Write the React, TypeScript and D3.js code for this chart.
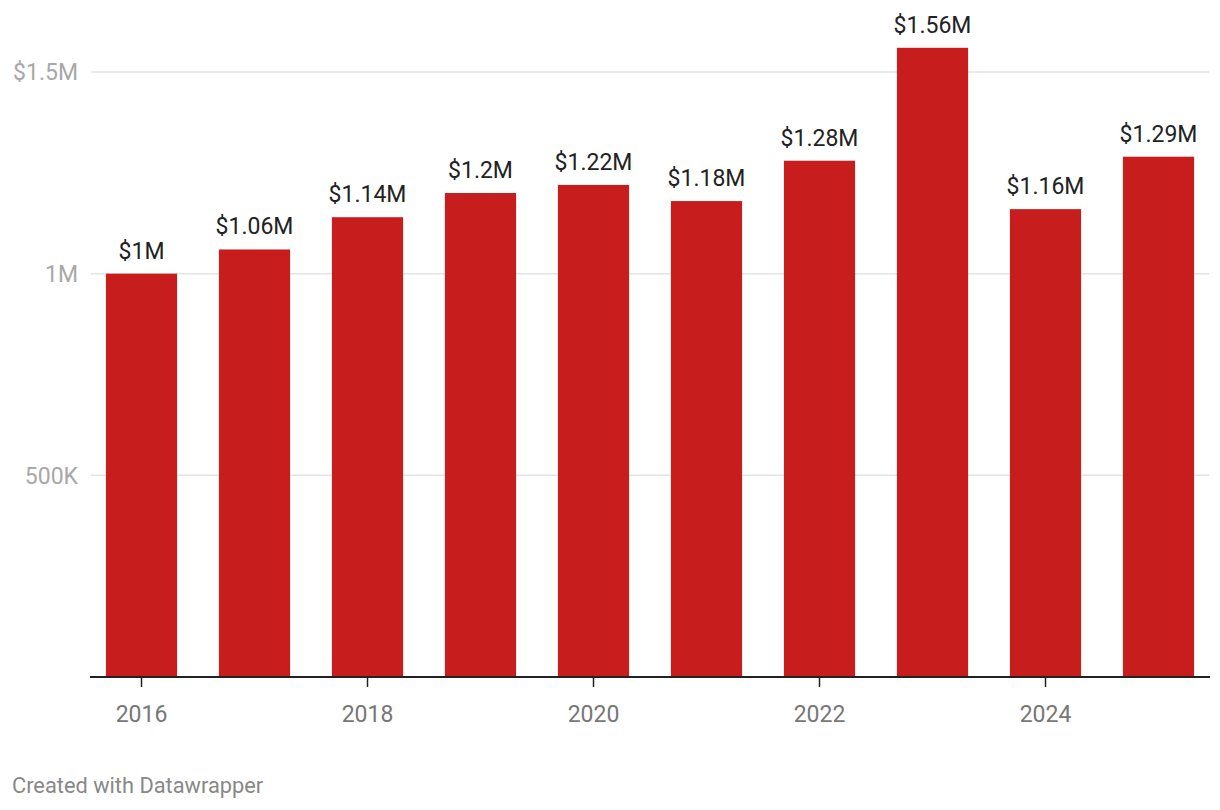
import React from "react";
import * as d3 from "d3";

const years = ["2016", "2017", "2018", "2019", "2020", "2021", "2022", "2023", "2024", "2025"];
const values = [1000000, 1060000, 1140000, 1200000, 1220000, 1180000, 1280000, 1560000, 1160000, 1290000];
const valueLabels = ["$1M", "$1.06M", "$1.14M", "$1.2M", "$1.22M", "$1.18M", "$1.28M", "$1.56M", "$1.16M", "$1.29M"];
const yTicks = [500000, 1000000, 1500000];
const yTickLabels = ["500K", "1M", "$1.5M"];
const xTickYears = ["2016", "2018", "2020", "2022", "2024"];

const W = 1220;
const H = 810;
const FONT = "Roboto, 'Noto Sans', sans-serif";

export default function App() {
  const x = d3.scaleBand<string>().domain(years).range([85, 1215]).paddingInner(0.37).paddingOuter(0.185);
  const y = d3.scaleLinear().domain([0, 1500000]).range([677, 72]);
  const bw = x.bandwidth();
  return (
    <svg width={W} height={H} style={{ position: "absolute", left: 0, top: 0, background: "#fff" }} fontFamily={FONT}>
      <rect x={0} y={0} width={W} height={H} fill="#fff" />
      {yTicks.map((t, i) => (
        <g key={t}>
          <line x1={91} x2={1209} y1={y(t)} y2={y(t)} stroke="#e3e3e3" strokeWidth={1.5} />
          <text x={78} y={y(t)} dy="0.36em" textAnchor="end" fontSize={23} fill="#a8a8a8">
            {yTickLabels[i]}
          </text>
        </g>
      ))}
      {years.map((yr, i) => (
        <g key={yr}>
          <rect x={x(yr)} y={y(values[i])} width={bw} height={y(0) - y(values[i])} fill="#c71e1d" />
          <text x={(x(yr) as number) + bw / 2} y={y(values[i]) - 15} textAnchor="middle" fontSize={23} fill="#222">
            {valueLabels[i]}
          </text>
        </g>
      ))}
      <line x1={90} x2={1210} y1={y(0)} y2={y(0)} stroke="#222" strokeWidth={2} />
      {xTickYears.map((yr) => {
        const cx = (x(yr) as number) + bw / 2;
        return (
          <g key={yr}>
            <line x1={cx} x2={cx} y1={y(0)} y2={y(0) + 10} stroke="#222" strokeWidth={1.5} />
            <text x={cx} y={722} textAnchor="middle" fontSize={23} fill="#777">
              {yr}
            </text>
          </g>
        );
      })}
      <text x={12} y={793} fontSize={21.8} fill="#888">
        Created with Datawrapper
      </text>
    </svg>
  );
}
